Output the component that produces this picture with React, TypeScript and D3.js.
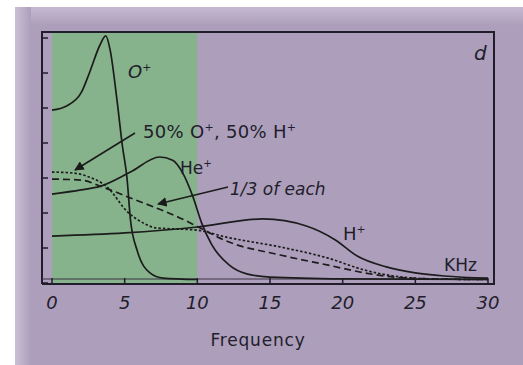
import React, { useEffect, useRef } from 'react';
import * as d3 from 'd3';

// frequency (kHz) vs relative amplitude
const oPlus: [number, number][] = [
  [0, 4.94], [1, 5.06], [2, 5.43], [2.6, 6.03], [3.3, 6.8], [3.7, 7.06], [4.0, 6.66],
  [4.47, 5.23], [4.85, 3.9], [5.16, 3.0], [5.4, 1.8], [5.85, 0.94], [6.74, 0.29],
  [7.64, 0.14], [10, 0.1],
];
const hePlus: [number, number][] = [
  [0, 2.54], [2, 2.66], [3.3, 2.76], [5.4, 3.17], [7.4, 3.6], [8.3, 3.51], [9, 3.14],
  [9.7, 2.46], [10.3, 1.71], [11, 1.09], [12.2, 0.51], [13.4, 0.26], [15, 0.17],
  [20, 0.12], [30, 0.1],
];
const hPlus: [number, number][] = [
  [0, 1.34], [5, 1.43], [10, 1.6], [14.5, 1.83], [17.5, 1.63], [19.5, 1.23],
  [21, 0.77], [23, 0.46], [25, 0.29], [27, 0.2], [30, 0.14],
];
const halfMix: [number, number][] = [
  [0, 3.17], [1.5, 3.14], [2.4, 3.05], [3.8, 2.74], [5.2, 2.03], [6.3, 1.71],
  [7.2, 1.57], [8.8, 1.54], [10, 1.51], [12, 1.31], [15.7, 1.03], [19, 0.71],
  [21.5, 0.37], [23.5, 0.2], [26, 0.12], [30, 0.1],
];
const thirdMix: [number, number][] = [
  [0, 2.97], [2, 2.94], [3.5, 2.74], [5.4, 2.43], [7.2, 2.14], [8.8, 1.86],
  [10.2, 1.57], [12, 1.2], [15.7, 0.8], [19, 0.51], [21.5, 0.29], [23.5, 0.17],
  [26, 0.12], [30, 0.1],
];
const xTicks = [0, 5, 10, 15, 20, 25, 30];
const yTicks = [0, 1, 2, 3, 4, 5, 6, 7];
const greenBand = [0, 10];

export default function App() {
  const svgRef = useRef<SVGSVGElement>(null);

  useEffect(() => {
    const svg = d3.select(svgRef.current);
    svg.selectAll('*').remove();

    const frame = { left: 42, top: 32, right: 494, bottom: 284 };
    const x = d3.scaleLinear().domain([0, 30]).range([52, 488]);
    const y = d3.scaleLinear().domain([0, 7]).range([283, 38]);
    const ink = '#221d2b';

    // background panel with lighter top/left edges
    const defs = svg.append('defs');
    const gTop = defs.append('linearGradient').attr('id', 'gTop').attr('x1', 0).attr('y1', 0).attr('x2', 0).attr('y2', 1);
    gTop.append('stop').attr('offset', 0).attr('stop-color', '#c6bad1');
    gTop.append('stop').attr('offset', 1).attr('stop-color', '#ad9fbb');
    const gLeft = defs.append('linearGradient').attr('id', 'gLeft').attr('x1', 0).attr('y1', 0).attr('x2', 1).attr('y2', 0);
    gLeft.append('stop').attr('offset', 0).attr('stop-color', '#cbbfd5');
    gLeft.append('stop').attr('offset', 1).attr('stop-color', '#ad9fbb');
    defs.append('marker').attr('id', 'arrow').attr('viewBox', '0 0 10 10')
      .attr('refX', 9).attr('refY', 5).attr('markerWidth', 6).attr('markerHeight', 6)
      .attr('orient', 'auto-start-reverse')
      .append('path').attr('d', 'M0,0 L10,5 L0,10 z').attr('fill', '#1a1a1a');

    svg.append('rect').attr('x', 15).attr('y', 7).attr('width', 508).attr('height', 358).attr('fill', '#ad9fbb');
    svg.append('rect').attr('x', 15).attr('y', 7).attr('width', 508).attr('height', 18).attr('fill', 'url(#gTop)');
    svg.append('rect').attr('x', 15).attr('y', 7).attr('width', 16).attr('height', 358).attr('fill', 'url(#gLeft)');

    // green band 0-10 kHz
    svg.append('rect')
      .attr('x', x(greenBand[0])).attr('y', frame.top)
      .attr('width', x(greenBand[1]) - x(greenBand[0]))
      .attr('height', frame.bottom - frame.top)
      .attr('fill', '#86b38b');

    // frame
    svg.append('path')
      .attr('d', `M${frame.left},${frame.bottom} V${frame.top} H${frame.right} V${frame.bottom} H${frame.left}`)
      .attr('fill', 'none').attr('stroke', ink).attr('stroke-width', 2);
    svg.append('line').attr('x1', frame.left).attr('x2', x(30)).attr('y1', 279).attr('y2', 279)
      .attr('stroke', '#3a3345').attr('stroke-width', 1);

    // y ticks (inward)
    svg.append('g').selectAll('line').data(yTicks).join('line')
      .attr('x1', frame.left).attr('x2', frame.left + 6)
      .attr('y1', (d) => y(d)).attr('y2', (d) => y(d))
      .attr('stroke', ink).attr('stroke-width', 1.5);

    // x ticks and labels
    svg.append('g').selectAll('line').data(xTicks).join('line')
      .attr('x1', (d) => x(d)).attr('x2', (d) => x(d))
      .attr('y1', 278).attr('y2', 284)
      .attr('stroke', ink).attr('stroke-width', 1.5);
    svg.append('g').selectAll('text').data(xTicks).join('text')
      .attr('x', (d) => x(d)).attr('y', 309)
      .attr('text-anchor', 'middle')
      .attr('font-family', 'DejaVu Sans').attr('font-style', 'italic').attr('font-size', 18)
      .attr('fill', ink)
      .text((d) => d);

    svg.append('text').attr('x', 258).attr('y', 346).attr('text-anchor', 'middle')
      .attr('font-family', 'DejaVu Sans').attr('font-size', 17).attr('letter-spacing', 0.8)
      .attr('fill', ink)
      .text('Frequency');

    // curves
    const line = d3.line<[number, number]>()
      .x((d) => x(d[0])).y((d) => y(d[1]))
      .curve(d3.curveMonotoneX);
    const series: { data: [number, number][]; dash: string | null }[] = [
      { data: hPlus, dash: null },
      { data: hePlus, dash: null },
      { data: oPlus, dash: null },
      { data: halfMix, dash: '2.5,2' },
      { data: thirdMix, dash: '7,4' },
    ];
    svg.append('g').selectAll('path').data(series).join('path')
      .attr('d', (d) => line(d.data))
      .attr('fill', 'none').attr('stroke', '#1c1c1c').attr('stroke-width', 1.7)
      .attr('stroke-dasharray', (d) => d.dash);

    // annotations
    const ann = (tx: number, ty: number, main: string, sup: string | null, size: number, italic = false) => {
      const t = svg.append('text').attr('x', tx).attr('y', ty)
        .attr('font-family', 'DejaVu Sans').attr('font-size', size)
        .attr('font-style', italic ? 'italic' : 'normal').attr('fill', ink);
      t.append('tspan').text(main);
      if (sup) t.append('tspan').attr('dy', -size * 0.4).attr('font-size', size * 0.6).text(sup);
      return t;
    };
    ann(128, 78, 'O', '+', 18, true);
    ann(474, 60, 'd', null, 20, true);
    const t50 = svg.append('text').attr('x', 143).attr('y', 138)
      .attr('font-family', 'DejaVu Sans').attr('font-size', 18).attr('fill', ink)
      .attr('letter-spacing', 0.3);
    t50.append('tspan').text('50% O');
    t50.append('tspan').attr('dy', -7).attr('font-size', 11).text('+');
    t50.append('tspan').attr('dy', 7).text(', 50% H');
    t50.append('tspan').attr('dy', -7).attr('font-size', 11).text('+');
    ann(180, 174, 'He', '+', 17);
    ann(230, 195, '1/3 of each', null, 17, true);
    ann(343, 240, 'H', '+', 18);
    ann(444, 271, 'KHz', null, 17);

    svg.append('line').attr('x1', 135).attr('y1', 133).attr('x2', 75).attr('y2', 170)
      .attr('stroke', '#1c1c1c').attr('stroke-width', 1.6).attr('marker-end', 'url(#arrow)');
    svg.append('line').attr('x1', 228).attr('y1', 187).attr('x2', 158).attr('y2', 204)
      .attr('stroke', '#1c1c1c').attr('stroke-width', 1.6).attr('marker-end', 'url(#arrow)');
  }, []);

  return (
    <svg
      ref={svgRef}
      width={523}
      height={365}
      style={{ position: 'absolute', left: 0, top: 0, display: 'block', background: '#fff' }}
    />
  );
}
